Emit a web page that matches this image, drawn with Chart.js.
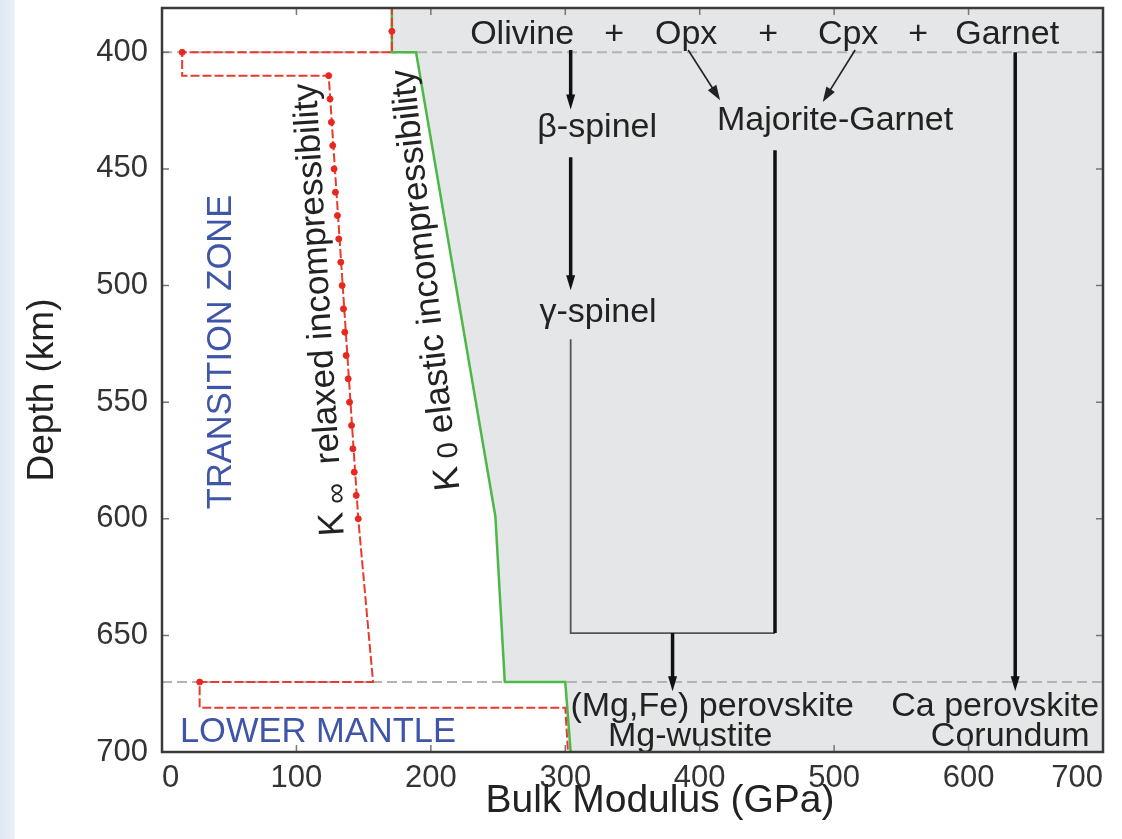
<!DOCTYPE html>
<html>
<head>
<meta charset="utf-8">
<title>Bulk modulus vs depth</title>
<script src="https://cdn.jsdelivr.net/npm/chart.js@4.4.1/dist/chart.umd.min.js"></script>
<style>
  html, body { margin: 0; padding: 0; }
  body {
    width: 1122px; height: 839px; overflow: hidden;
    background: linear-gradient(to right, #dfe9f5 0, #e8eff8 14px, #ffffff 15px);
  }
  #wrap { position: relative; width: 1122px; height: 839px; }
</style>
</head>
<body>
<div id="wrap"><canvas id="chart"></canvas></div>
<script>
const FONT = "'Liberation Sans', Arial, Helvetica, sans-serif";

// axis ticks
const xTicks = [0, 100, 200, 300, 400, 500, 600, 700];
const yTicks = [400, 450, 500, 550, 600, 650, 700];

// K0 elastic incompressibility (green)
const k0Depth = [380, 400, 400, 599, 670, 670, 700];
const k0Mod = [171, 171, 189, 248, 255, 300, 304];

// K-infinity relaxed incompressibility (red dashed)
const kinfDepth = [380, 400, 400, 410, 410, 600, 670, 670, 681, 681, 700];
const kinfMod = [171, 171, 15, 15, 124, 146, 157, 28, 28, 300, 302];

// sampled points on the relaxed curve
const dotDepth = [391, 400, 410, 420, 430, 440, 450, 460, 470, 480, 490, 500,
  510, 520, 530, 540, 550, 560, 570, 580, 590, 600, 670];
const dotMod = [171, 15, 124, 125, 126, 127, 128, 129, 130.5, 131.5, 133, 134,
  135, 136, 137, 138.5, 139.5, 141, 142, 143, 144.5, 146, 28];

// discontinuities
const boundaryDepth = [400, 670];

// phase diagram connectors [x, depth]
const links = [
  { pts: [[304, 399], [304, 424.5]], w: 3.5, color: '#111', head: true },
  { pts: [[304, 445], [304, 502]], w: 3.5, color: '#111', head: true },
  { pts: [[304, 523], [304, 649], [456, 649]], w: 1.8, color: '#555' },
  { pts: [[456, 649], [456, 442]], w: 3.5, color: '#111' },
  { pts: [[379.8, 649], [379.8, 674]], w: 3.5, color: '#111', head: true },
  { pts: [[391.4, 399], [415.2, 420.5]], w: 1.6, color: '#222', head: true },
  { pts: [[515.6, 399], [491.5, 421.3]], w: 1.6, color: '#222', head: true },
  { pts: [[634.7, 400], [634.7, 674]], w: 3.5, color: '#111', head: true }
];

const phaseLabels = [
  ['Olivine', 267.9, 392.3], ['+', 336.3, 392.3], ['Opx', 389.9, 392.3],
  ['+', 450.9, 392.3], ['Cpx', 510.4, 392.3], ['+', 562.5, 392.3],
  ['Garnet', 628.7, 392.3],
  ['\u03b2-spinel', 323.7, 432.4], ['Majorite-Garnet', 500.7, 429.4],
  ['\u03b3-spinel', 324.4, 511.7],
  ['(Mg,Fe) perovskite', 409.2, 680.7], ['Mg-wustite', 392.9, 693.2],
  ['Ca perovskite', 619.8, 680.7], ['Corundum', 631, 693.2]
];

const toPts = (xs, ys) => xs.map((v, i) => ({ x: v, y: ys[i] }));

function drawRich(ctx, parts, cx, cy, rot, color) {
  ctx.save();
  ctx.translate(cx, cy);
  ctx.rotate(rot);
  ctx.textBaseline = 'middle';
  ctx.textAlign = 'left';
  ctx.fillStyle = color;
  let total = 0;
  parts.forEach(p => {
    ctx.font = p.size + 'px ' + FONT;
    p.w = ctx.measureText(p.t).width;
    total += p.w;
  });
  let xx = -total / 2;
  parts.forEach(p => {
    ctx.font = p.size + 'px ' + FONT;
    ctx.fillText(p.t, xx, p.dy || 0);
    xx += p.w;
  });
  ctx.restore();
}

const deg = Math.PI / 180;

const phasePlugin = {
  id: 'phase',
  afterDatasetsDraw(chart) {
    const { ctx, chartArea: a, scales: { x, y } } = chart;
    const px = v => x.getPixelForValue(v);
    const py = v => y.getPixelForValue(v);
    ctx.save();
    ctx.lineCap = 'butt';
    ctx.lineJoin = 'miter';

    links.forEach(l => {
      const P = l.pts.map(p => [px(p[0]), py(p[1])]);
      const n = P.length;
      let ux = 0, uy = 0, L = 15, hw = l.w > 2 ? 4.5 : 5;
      if (l.head) {
        const dx = P[n - 1][0] - P[n - 2][0], dy = P[n - 1][1] - P[n - 2][1];
        const d = Math.hypot(dx, dy);
        ux = dx / d; uy = dy / d;
      }
      ctx.beginPath();
      ctx.strokeStyle = l.color;
      ctx.lineWidth = l.w;
      P.forEach((p, i) => {
        let qx = p[0], qy = p[1];
        if (l.head && i === n - 1) { qx -= ux * L * 0.6; qy -= uy * L * 0.6; }
        i ? ctx.lineTo(qx, qy) : ctx.moveTo(qx, qy);
      });
      ctx.stroke();
      if (l.head) {
        const [tx, ty] = P[n - 1];
        ctx.beginPath();
        ctx.fillStyle = l.color;
        ctx.moveTo(tx, ty);
        ctx.lineTo(tx - ux * L - uy * hw, ty - uy * L + ux * hw);
        ctx.lineTo(tx - ux * L + uy * hw, ty - uy * L - ux * hw);
        ctx.closePath();
        ctx.fill();
      }
    });

    ctx.fillStyle = '#222';
    ctx.textAlign = 'center';
    ctx.textBaseline = 'middle';
    ctx.font = '34px ' + FONT;
    phaseLabels.forEach(t => ctx.fillText(t[0], px(t[1]), py(t[2])));

    // zone names
    ctx.fillStyle = '#3f55a8';
    ctx.font = '34.5px ' + FONT;
    ctx.fillText('LOWER MANTLE', px(116), py(691.5));
    drawRich(ctx, [{ t: 'TRANSITION ZONE', size: 34.5 }], px(44.6), py(528.5), -Math.PI / 2, '#3f55a8');

    // curve names, tilted along the curves
    drawRich(ctx, [
      { t: 'K', size: 36 },
      { t: ' \u221e', size: 29, dy: 6 },
      { t: '  relaxed incompressibility', size: 35 }
    ], px(117.6), py(510.4), -Math.PI / 2 - 3.5 * deg, '#222');
    drawRich(ctx, [
      { t: 'K', size: 36 },
      { t: ' 0', size: 29, dy: 4 },
      { t: ' elastic incompressibility', size: 35 }
    ], px(196.9), py(497.6), -Math.PI / 2 - 6.2 * deg, '#222');

    // frame and inward ticks
    ctx.strokeStyle = '#777';
    ctx.lineWidth = 1.5;
    ctx.beginPath();
    xTicks.forEach(v => {
      const X = px(v);
      ctx.moveTo(X, a.bottom); ctx.lineTo(X, a.bottom - 7);
      ctx.moveTo(X, a.top); ctx.lineTo(X, a.top + 7);
    });
    yTicks.forEach(v => {
      const Y = py(v);
      ctx.moveTo(a.left, Y); ctx.lineTo(a.left + 7, Y);
      ctx.moveTo(a.right, Y); ctx.lineTo(a.right - 7, Y);
    });
    ctx.stroke();
    ctx.strokeStyle = '#3a3a3a';
    ctx.lineWidth = 2.5;
    ctx.strokeRect(a.left, a.top, a.right - a.left, a.bottom - a.top);

    // axis titles
    ctx.fillStyle = '#222';
    ctx.font = '39px ' + FONT;
    ctx.fillText('Bulk Modulus (GPa)', 660, 801);
    drawRich(ctx, [{ t: 'Depth (km)', size: 37 }], 43, 390, -Math.PI / 2, '#222');
    ctx.restore();
  }
};

new Chart(document.getElementById('chart'), {
  type: 'scatter',
  data: {
    datasets: [
      {
        label: 'shade',
        data: toPts(k0Mod.concat([700, 700]), k0Depth.concat([700, 380])),
        showLine: true,
        fill: 'shape',
        backgroundColor: '#e5e6e7',
        borderWidth: 0,
        pointRadius: 0,
        order: 10
      },
      {
        label: '400 km',
        data: toPts([0, 700], [boundaryDepth[0], boundaryDepth[0]]),
        showLine: true,
        borderColor: '#b3b3b3',
        borderWidth: 2,
        borderDash: [10, 5],
        pointRadius: 0,
        order: 9
      },
      {
        label: '670 km',
        data: toPts([0, 700], [boundaryDepth[1], boundaryDepth[1]]),
        showLine: true,
        borderColor: '#b3b3b3',
        borderWidth: 2,
        borderDash: [10, 5],
        pointRadius: 0,
        order: 8
      },
      {
        label: 'K0 elastic',
        data: toPts(k0Mod, k0Depth),
        showLine: true,
        borderColor: '#4cb848',
        borderWidth: 2.5,
        pointRadius: 0,
        order: 5
      },
      {
        label: 'Kinf relaxed',
        data: toPts(kinfMod, kinfDepth),
        showLine: true,
        borderColor: '#ea3a2e',
        borderWidth: 2,
        borderDash: [9, 3],
        pointRadius: 0,
        order: 3
      },
      {
        label: 'Kinf samples',
        data: toPts(dotMod, dotDepth),
        showLine: false,
        backgroundColor: '#e8281e',
        borderColor: '#e8281e',
        pointRadius: 3,
        order: 2
      }
    ]
  },
  options: {
    responsive: true,
    maintainAspectRatio: false,
    animation: false,
    layout: { padding: { left: 0, right: 19, top: 8, bottom: 0 } },
    plugins: { legend: { display: false }, tooltip: { enabled: false } },
    scales: {
      x: {
        type: 'linear',
        min: 0,
        max: 700,
        grid: { display: false },
        border: { display: false },
        afterBuildTicks: s => { s.ticks = xTicks.map(v => ({ value: v })); },
        afterFit: s => { s.height = 87; s.paddingLeft = 0; s.paddingRight = 0; },
        ticks: {
          align: 'inner',
          padding: 0,
          color: '#333',
          font: { size: 31 }
        }
      },
      y: {
        type: 'linear',
        reverse: true,
        min: 381,
        max: 700,
        grid: { display: false },
        border: { display: false },
        afterBuildTicks: s => { s.ticks = yTicks.map(v => ({ value: v })); },
        afterFit: s => { s.width = 162; s.paddingTop = 0; s.paddingBottom = 0; },
        ticks: {
          padding: 6,
          color: '#333',
          font: { size: 31 }
        }
      }
    }
  },
  plugins: [phasePlugin]
});
</script>
</body>
</html>
